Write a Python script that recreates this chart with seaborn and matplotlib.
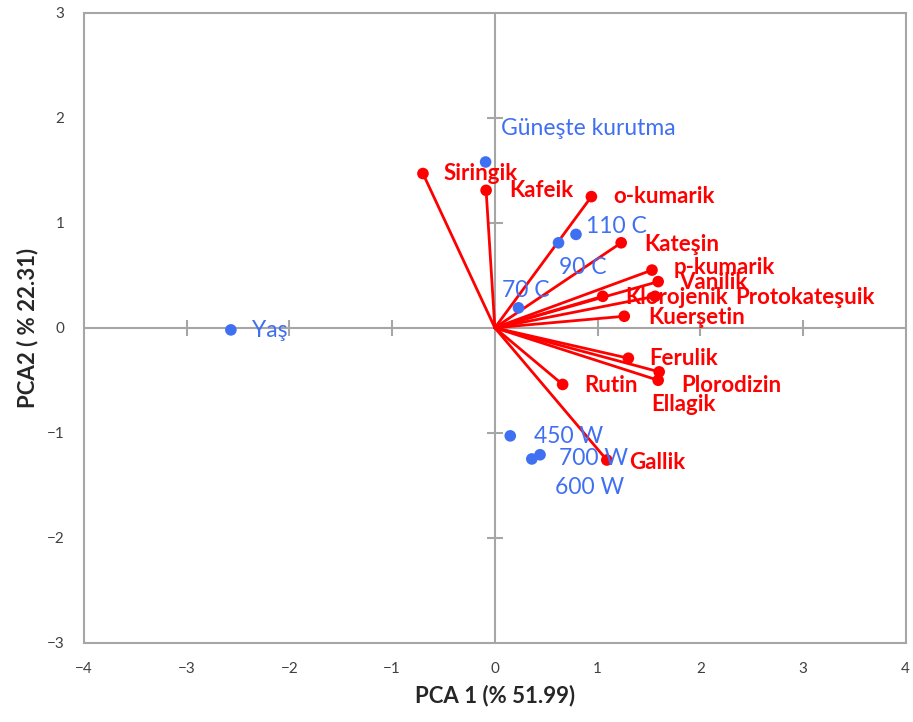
import matplotlib
matplotlib.use("Agg")
import matplotlib.pyplot as plt
import seaborn as sns
import pandas as pd
import numpy as np

# --- data ---
samples = ["Güneşte kurutma", "110 C", "90 C", "70 C", "Yaş", "450 W", "700 W", "600 W"]
sample_pc1 = [-0.09, 0.79, 0.62, 0.23, -2.57, 0.15, 0.36, 0.44]
sample_pc2 = [1.58, 0.89, 0.81, 0.19, -0.02, -1.03, -1.25, -1.21]

compounds = ["Siringik", "Kafeik", "o-kumarik", "Kateşin", "p-kumarik", "Vanilik",
             "Klorojenik", "Protokateşuik", "Kuerşetin", "Ferulik", "Plorodizin",
             "Ellagik", "Rutin", "Gallik"]
comp_pc1 = [-0.70, -0.085, 0.94, 1.23, 1.53, 1.59, 1.05, 1.56, 1.26, 1.30, 1.60, 1.59, 0.66, 1.09]
comp_pc2 = [1.47, 1.31, 1.25, 0.81, 0.55, 0.44, 0.30, 0.30, 0.11, -0.29, -0.42, -0.50, -0.54, -1.26]

ticks_x = [-4, -3, -2, -1, 0, 1, 2, 3, 4]
ticks_y = [-3, -2, -1, 0, 1, 2, 3]

# --- layout (label anchor positions, data units) ---
sample_label_pos = [(0.06, 1.90), (0.89, 0.97), (0.62, 0.57), (0.07, 0.36), (-2.36, -0.03),
                    (0.38, -1.04), (0.62, -1.25), (0.59, -1.52)]
comp_label_pos = [(-0.50, 1.47), (0.14, 1.31), (1.15, 1.25), (1.45, 0.79), (1.74, 0.57),
                  (1.79, 0.43), (1.27, 0.29), (2.34, 0.29), (1.49, 0.10), (1.50, -0.29),
                  (1.81, -0.55), (1.52, -0.73), (0.87, -0.55), (1.31, -1.28)]

BLUE = "#4070F2"
RED = "#FF0000"
GRAY = "#A6A6A6"

sns.set_theme(style="white")
plt.rcParams["font.family"] = ["Lato", "DejaVu Sans"]

fig = plt.figure(figsize=(9.13, 7.22), dpi=100)
ax = fig.add_axes([0.092, 0.110, 0.900, 0.872])

# central axes
ax.axhline(0, color=GRAY, lw=1.5, zorder=1)
ax.axvline(0, color=GRAY, lw=1.5, zorder=1)
ax.plot([t for t in ticks_x if t not in (-4, 4)], [0] * 7, ls="none", marker="|",
        ms=12, mew=1.5, color=GRAY, zorder=1)
ax.plot([0] * 5, [t for t in ticks_y if t not in (-3, 3)], ls="none", marker="_",
        ms=12, mew=1.5, color=GRAY, zorder=1)

# loading vectors
for x, y in zip(comp_pc1, comp_pc2):
    ax.plot([0, x], [0, y], color=RED, lw=2.0, zorder=2)

comp_df = pd.DataFrame({"PC1": comp_pc1, "PC2": comp_pc2, "name": compounds})
samp_df = pd.DataFrame({"PC1": sample_pc1, "PC2": sample_pc2, "name": samples})

sns.scatterplot(data=comp_df, x="PC1", y="PC2", color=RED, s=70, edgecolor="none",
                ax=ax, zorder=3)
sns.scatterplot(data=samp_df, x="PC1", y="PC2", color=BLUE, s=70, edgecolor="none",
                ax=ax, zorder=3)

for name, (lx, ly) in zip(compounds, comp_label_pos):
    ax.text(lx, ly, name, color=RED, fontsize=16, fontweight="bold",
            ha="left", va="center", zorder=4)
for name, (lx, ly) in zip(samples, sample_label_pos):
    ax.text(lx, ly, name, color=BLUE, fontsize=16.5, ha="left", va="center", zorder=4)

ax.set_xlim(-4, 4)
ax.set_ylim(-3, 3)
ax.set_xticks(ticks_x)
ax.set_yticks(ticks_y)
ax.tick_params(axis="both", length=0, labelsize=11, colors="#404040", pad=14)
for s in ax.spines.values():
    s.set_color(GRAY)
    s.set_linewidth(1.5)
ax.set_xlabel("PCA 1 (% 51.99)", fontsize=16, fontweight="bold", color="#262626", labelpad=6)
ax.set_ylabel("PCA2 ( % 22.31)", fontsize=16, fontweight="bold", color="#262626", labelpad=6)

fig.savefig("out.png", dpi=100)
